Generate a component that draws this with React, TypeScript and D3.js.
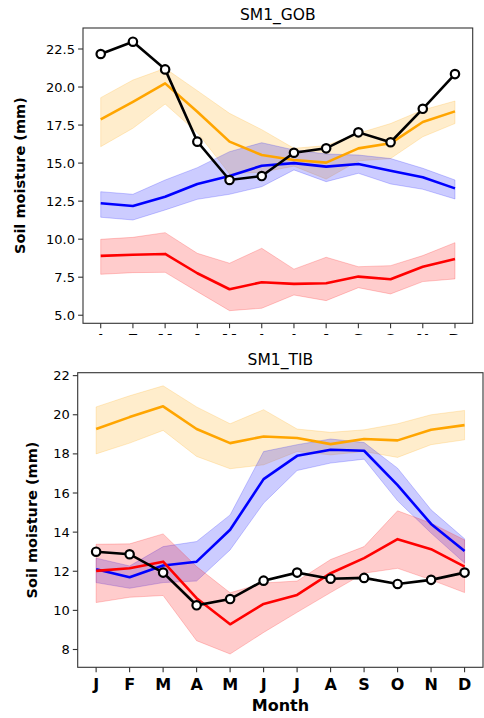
import React from "react";
import * as d3 from "d3";

const months = ["J", "F", "M", "A", "M", "J", "J", "A", "S", "O", "N", "D"];

// Panel 1: SM1_GOB
const gobObs = [22.17, 22.98, 21.16, 16.41, 13.89, 14.15, 15.68, 15.97, 17.02, 16.37, 18.57, 20.85];
const gobOrange = [17.88, 19.03, 20.24, 18.38, 16.41, 15.53, 15.2, 15.03, 15.97, 16.3, 17.7, 18.4];
const gobOrangeHi = [19.3, 20.46, 21.23, 19.76, 18.27, 17.2, 15.97, 16.15, 16.96, 17.6, 18.49, 19.08];
const gobOrangeLo = [16.08, 17.29, 18.88, 17.0, 14.3, 14.4, 14.8, 13.95, 15.15, 15.3, 16.73, 17.6];
const gobBlue = [12.36, 12.18, 12.79, 13.63, 14.15, 14.83, 15.0, 14.77, 14.94, 14.5, 14.07, 13.34];
const gobBlueHi = [13.12, 12.95, 13.89, 14.7, 15.75, 16.34, 15.86, 15.6, 15.53, 15.3, 14.66, 13.89];
const gobBlueLo = [11.44, 11.26, 11.92, 12.62, 12.95, 13.45, 14.55, 13.78, 14.33, 13.63, 13.28, 12.64];
const gobRed = [8.9, 8.98, 9.03, 7.76, 6.71, 7.17, 7.06, 7.1, 7.54, 7.37, 8.19, 8.7];
const gobRedHi = [9.99, 10.12, 10.43, 9.07, 8.42, 9.4, 8.03, 8.81, 8.19, 8.26, 8.92, 9.77];
const gobRedLo = [7.69, 7.8, 7.82, 6.55, 5.3, 5.46, 6.33, 5.96, 6.81, 6.4, 7.21, 7.39];
const gobTicks = [5, 7.5, 10, 12.5, 15, 17.5, 20, 22.5];

// Panel 2: SM1_TIB
const tibObs = [13.0, 12.87, 11.93, 10.26, 10.58, 11.52, 11.93, 11.62, 11.66, 11.35, 11.56, 11.93];
const tibOrange = [19.27, 19.88, 20.43, 19.27, 18.55, 18.89, 18.81, 18.5, 18.76, 18.69, 19.23, 19.47];
const tibOrangeHi = [20.4, 20.97, 21.48, 20.4, 19.54, 20.26, 19.27, 19.1, 19.23, 19.54, 20.0, 20.22];
const tibOrangeLo = [18.0, 18.55, 19.2, 17.87, 17.24, 17.44, 18.12, 17.95, 18.12, 17.82, 18.47, 18.72];
const tibBlue = [12.1, 11.69, 12.29, 12.49, 14.12, 16.71, 17.9, 18.21, 18.16, 16.4, 14.42, 13.04];
const tibBlueHi = [12.67, 12.27, 13.26, 13.52, 14.88, 18.12, 18.47, 18.76, 18.58, 17.27, 15.14, 13.66];
const tibBlueLo = [11.42, 11.13, 11.42, 11.5, 13.09, 15.48, 17.15, 17.53, 17.73, 15.6, 13.95, 12.42];
const tibRed = [12.02, 12.15, 12.49, 10.62, 9.29, 10.33, 10.79, 11.9, 12.67, 13.64, 13.13, 12.24];
const tibRedHi = [13.38, 13.4, 13.91, 12.24, 10.9, 11.4, 11.5, 12.6, 13.26, 15.09, 14.46, 13.6];
const tibRedLo = [10.4, 10.67, 10.76, 8.45, 7.77, 8.87, 9.9, 10.91, 11.9, 12.15, 11.56, 10.91];
const tibTicks = [8, 10, 12, 14, 16, 18, 20, 22];

const FONT = "DejaVu Sans";

type Band = { mid: number[]; hi: number[]; lo: number[]; color: string };

function Panel(props: {
  title: string;
  left: number; right: number; top: number; bottom: number;
  yDomain: [number, number];
  ticks: number[];
  fmt: (v: number) => string;
  bands: Band[];
  obs: number[];
  clipLabelsAt?: number;
  id: string;
}) {
  const { left, right, top, bottom } = props;
  const x = d3.scaleLinear().domain([-0.55, 11.55]).range([left, right]);
  const y = d3.scaleLinear().domain(props.yDomain).range([bottom, top]);
  const line = d3.line<number>().x((_, i) => x(i)).y((v) => y(v));
  const area = (hi: number[], lo: number[]) =>
    d3.area<number>().x((_, i) => x(i)).y0((_, i) => y(lo[i])).y1((v) => y(v))(hi) || "";
  const idx = d3.range(12);
  return (
    <g>
      <defs>
        <clipPath id={props.id + "clip"}>
          <rect x={0} y={0} width={484} height={props.clipLabelsAt ?? 718} />
        </clipPath>
      </defs>
      <text x={(left + right) / 2} y={top - 8} textAnchor="middle" fontFamily={FONT} fontSize={15.5}>{props.title}</text>
      {props.bands.map((b, k) => (
        <path key={"a" + k} d={area(b.hi, b.lo)} fill={b.color} fillOpacity={0.2} stroke={b.color} strokeOpacity={0.2} strokeWidth={1} />
      ))}
      {props.bands.map((b, k) => (
        <path key={"l" + k} d={line(b.mid) || ""} fill="none" stroke={b.color} strokeWidth={2.6} strokeLinejoin="round" />
      ))}
      <path d={line(props.obs) || ""} fill="none" stroke="black" strokeWidth={2.6} />
      {props.obs.map((v, i) => (
        <circle key={i} cx={x(i)} cy={y(v)} r={4.2} fill="white" stroke="black" strokeWidth={2.2} />
      ))}
      <rect x={left} y={top} width={right - left} height={bottom - top} fill="none" stroke="#333" strokeWidth={1.1} />
      {props.ticks.map((t) => (
        <g key={t}>
          <line x1={left - 4.9} x2={left} y1={y(t)} y2={y(t)} stroke="#333" strokeWidth={1.1} />
          <text x={left - 8} y={y(t)} dy="0.35em" textAnchor="end" fontFamily={FONT} fontSize={13}>{props.fmt(t)}</text>
        </g>
      ))}
      <g clipPath={`url(#${props.id}clip)`}>
        {idx.map((i) => (
          <g key={i}>
            <line x1={x(i)} x2={x(i)} y1={bottom} y2={bottom + 4.9} stroke="#333" strokeWidth={1.1} />
            <text x={x(i)} y={bottom + 23} textAnchor="middle" fontFamily={FONT} fontWeight="bold" fontSize={16}>{months[i]}</text>
          </g>
        ))}
      </g>
    </g>
  );
}

export default function App() {
  const orange = "orange";
  const blue = "blue";
  const red = "red";
  return (
    <svg width={484} height={718} style={{ position: "absolute", left: 0, top: 0, background: "white" }}>
      <rect x={0} y={0} width={484} height={718} fill="white" />
      <Panel
        id="gob"
        title="SM1_GOB"
        left={83} right={472.7} top={28} bottom={323.3}
        yDomain={[4.47, 23.88]}
        ticks={gobTicks}
        fmt={(v) => v.toFixed(1)}
        bands={[
          { mid: gobOrange, hi: gobOrangeHi, lo: gobOrangeLo, color: orange },
          { mid: gobBlue, hi: gobBlueHi, lo: gobBlueLo, color: blue },
          { mid: gobRed, hi: gobRedHi, lo: gobRedLo, color: red },
        ]}
        obs={gobObs}
        clipLabelsAt={335}
      />
      <Panel
        id="tib"
        title="SM1_TIB"
        left={77.7} right={483} top={372.7} bottom={667.3}
        yDomain={[7.09, 22.15]}
        ticks={tibTicks}
        fmt={(v) => String(v)}
        bands={[
          { mid: tibOrange, hi: tibOrangeHi, lo: tibOrangeLo, color: orange },
          { mid: tibBlue, hi: tibBlueHi, lo: tibBlueLo, color: blue },
          { mid: tibRed, hi: tibRedHi, lo: tibRedLo, color: red },
        ]}
        obs={tibObs}
      />
      <text transform={`translate(25,175.6) rotate(-90)`} textAnchor="middle" fontFamily={FONT} fontWeight="bold" fontSize={14.5}>Soil moisture (mm)</text>
      <text transform={`translate(37,520) rotate(-90)`} textAnchor="middle" fontFamily={FONT} fontWeight="bold" fontSize={14.5}>Soil moisture (mm)</text>
      <text x={280.4} y={711} textAnchor="middle" fontFamily={FONT} fontWeight="bold" fontSize={16}>Month</text>
    </svg>
  );
}
